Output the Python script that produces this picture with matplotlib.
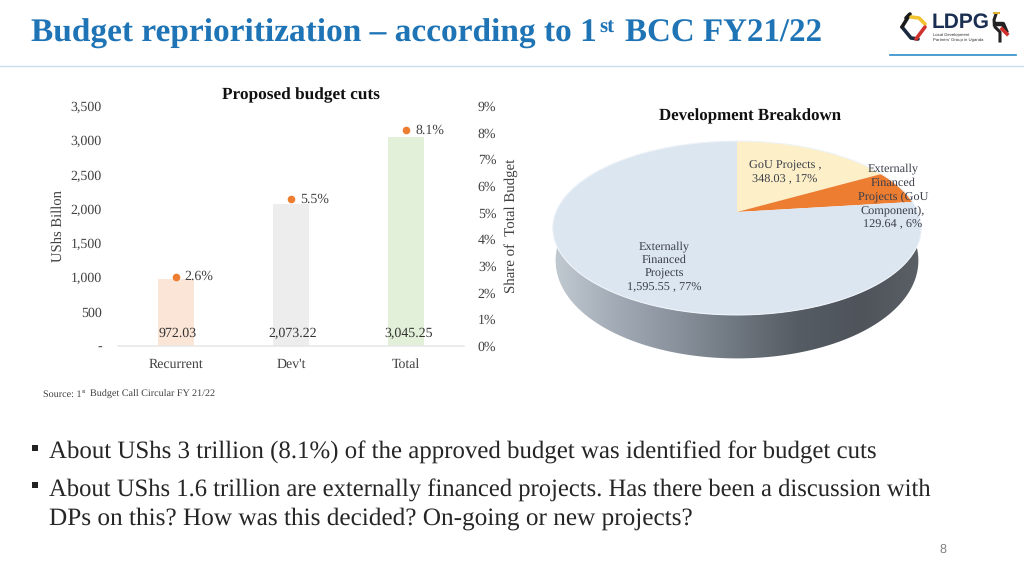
import numpy as np
import matplotlib
matplotlib.use("Agg")
import matplotlib.pyplot as plt
from matplotlib.colors import LinearSegmentedColormap
from matplotlib.patches import Polygon, Rectangle

# ---------- data ----------
categories = ["Recurrent", "Dev't", "Total"]
cuts = [972.03, 2073.22, 3045.25]
cut_labels = ["972.03", "2,073.22", "3,045.25"]
shares = [2.6, 5.5, 8.1]
left_ticks = [0, 500, 1000, 1500, 2000, 2500, 3000, 3500]
left_tick_labels = ["-", "500", "1,000", "1,500", "2,000", "2,500", "3,000", "3,500"]
right_ticks = [0, 1, 2, 3, 4, 5, 6, 7, 8, 9]
pie_values = [348.03, 129.64, 1595.55]
pie_colors = ["#FDF0C8", "#ED7D31", "#DCE6F1"]
bar_colors = ["#FBE5D6", "#EDEDED", "#E2F0D9"]

SERIF = "Liberation Serif"
plt.rcParams["font.family"] = SERIF
plt.rcParams["text.hinting"] = "no_hinting"
plt.rcParams["text.hinting_factor"] = 8
W, H = 1024, 576
fig = plt.figure(figsize=(W / 100, H / 100), dpi=100, facecolor="white")

# overlay in pixel coordinates
ov = fig.add_axes([0, 0, 1, 1])
ov.set_xlim(0, W)
ov.set_ylim(H, 0)
ov.axis("off")

# ---------- header ----------
BLUE = "#1F74B6"
ov.text(31, 34, "Budget reprioritization – according to 1", color=BLUE, fontsize=24,
        fontweight="bold", va="center", ha="left")
ov.text(599, 28, "st", color=BLUE, fontsize=15, fontweight="bold", va="center", ha="left")
ov.text(625, 34, "BCC FY21/22", color=BLUE, fontsize=23.8, fontweight="bold", va="center", ha="left")
ov.plot([0, 1024], [65.5, 65.5], color="#C9DDEE", lw=1)
ov.plot([890, 1016], [54.5, 54.5], color="#2E8BC9", lw=1.2)

# logo
ov.plot([902, 911, 918], [27, 38, 39], color="#1B2A41", lw=2.6, solid_capstyle="round")
ov.plot([902, 910, 906], [27, 14, 18], color="#1B1B1B", lw=2.6, solid_capstyle="round")
ov.plot([911, 919, 925], [17, 18, 24], color="#F2C230", lw=2.6, solid_capstyle="round")
ov.plot([925, 919, 916], [27, 35, 39], color="#D0312D", lw=2.6, solid_capstyle="round")
ov.text(932, 22, "LDPG", color="#1B2F52", fontsize=15, fontweight="bold",
        family="Liberation Sans", va="center", ha="left")
ov.text(933, 35, "Local Development", color="#333333", fontsize=3.1, family="Liberation Sans", va="center")
ov.text(933, 40, "Partners' Group in Uganda", color="#333333", fontsize=3.1, family="Liberation Sans", va="center")
ov.plot([996, 994, 995, 1000, 1000], [14, 20, 27, 32, 41], color="#222222", lw=2.2)
ov.plot([995, 1003, 1006], [24, 24, 31], color="#222222", lw=3.2)
ov.plot([1002, 1007], [29, 34], color="#D0312D", lw=2.6)
ov.plot([994, 999], [13, 13], color="#E0B030", lw=1.5)

# ---------- bar chart ----------
ax = fig.add_axes([118 / W, 1 - 346 / H, 346 / W, 240 / H])
ax.patch.set_alpha(0)
x = np.arange(len(categories))
ax.bar(x, cuts, width=0.31, color=bar_colors, zorder=1)
ax.set_xlim(-0.5, 2.5)
ax.set_ylim(0, 3500)
ax.set_xticks(x)
ax.set_xticklabels(categories, fontsize=10, color="#404040")
ax.set_yticks(left_ticks)
ax.set_yticklabels(left_tick_labels, fontsize=10, color="#404040")
ax.tick_params(axis="both", length=0)
ax.tick_params(axis="y", pad=11.5)
ax.tick_params(axis="x", pad=8.5)
for s in ["top", "left", "right"]:
    ax.spines[s].set_visible(False)
ax.spines["bottom"].set_color("#E8E8E8")
ax.spines["bottom"].set_linewidth(1.2)
ax.set_ylabel("UShs Billon", fontsize=10.5, color="#404040")
ax.yaxis.set_label_coords(-0.153, 0.5)
for xi, lab in zip(x, cut_labels):
    ax.annotate(lab, (xi, 180), xytext=(1.5, 0), textcoords="offset points", ha="center",
                va="center", fontsize=10, color="#333333", zorder=5)

ax2 = ax.twinx()
ax2.patch.set_alpha(0)
ax2.scatter(x, shares, s=30, color="#ED7D31", zorder=4, linewidths=0)
ax2.set_ylim(0, 9)
ax2.set_yticks(right_ticks)
ax2.set_yticklabels([f"{t}%" for t in right_ticks], fontsize=10, color="#404040")
ax2.tick_params(axis="y", length=0, pad=10)
for s in ax2.spines.values():
    s.set_visible(False)
ax2.set_ylabel("Share of  Total Budget", fontsize=10.7, color="#404040")
ax2.yaxis.set_label_coords(1.115, 0.5)
for xi, v in zip(x, shares):
    ax2.annotate(f"{v}%", (xi, v), xytext=(6.5, 0), textcoords="offset points",
                 fontsize=10, color="#404040", va="center", ha="left")

ov.text(301, 95, "Proposed budget cuts", fontsize=12.4, fontweight="bold", ha="center",
        va="center", color="#111111")
ov.text(43, 394, "Source: 1", fontsize=7.25, color="#404040", va="center", ha="left")
ov.text(82, 391.5, "st", fontsize=4.5, color="#404040", va="center", ha="left")
ov.text(89.5, 394, "Budget Call Circular FY 21/22", fontsize=7.25, color="#404040", va="center", ha="left")

# ---------- perspective pie ----------
CX, CY, R, HH, K = 737.0, 212.0, 181.0, 84.0, 0.184


def project(theta, scale=1.0):
    """theta measured clockwise from the top of the disc, in radians."""
    u, v = np.sin(theta), np.cos(theta)
    d = 1 + K * v
    return CX + scale * R * u / d, CY - scale * HH * v / d


vals = np.asarray(pie_values, dtype=float)
edges = np.concatenate([[0], np.cumsum(vals) / vals.sum() * 2 * np.pi])

# side wall with horizontal gradient, clipped to the wall outline
front = np.linspace(np.radians(84), np.radians(276), 200)
xt, yt = project(front)
xb, yb = project(front, scale=0.985)
yb = yb + 30 - 15 * np.cos(front)
wall = np.column_stack([np.r_[xt, xb[::-1]], np.r_[yt, yb[::-1]]])
wall_patch = Polygon(wall, closed=True, transform=ov.transData, fc="none", ec="none")
ov.add_patch(wall_patch)
wall_cmap = LinearSegmentedColormap.from_list(
    "wall", ["#C2CAD2", "#A3ACB6", "#8A939D", "#6E767F", "#565C63", "#4E545A", "#5A6066"])
img = ov.imshow(np.linspace(0, 1, 256)[None, :], extent=[552, 922, 360, 220], cmap=wall_cmap,
                aspect="auto", interpolation="bilinear", zorder=1)
img.set_clip_path(wall_patch)
ov.set_xlim(0, W)
ov.set_ylim(H, 0)

# slices on top of the disc
for i, col in enumerate(pie_colors):
    th = np.linspace(edges[i], edges[i + 1], 240)
    px, py = project(th)
    ov.add_patch(Polygon(np.column_stack([np.r_[CX, px], np.r_[CY, py]]), closed=True,
                         fc=col, ec="none", zorder=2))
rim = np.linspace(0, 2 * np.pi, 400)
rx, ry = project(rim)
ov.plot(rx, ry, color="#EEF3F8", lw=0.8, zorder=3)

ov.text(750, 116, "Development Breakdown", fontsize=12.15, fontweight="bold", ha="center",
        va="center", color="#111111")
PT = "#3A3F4A"
ov.text(785, 172, "GoU Projects ,\n348.03 , 17%", fontsize=8.8, ha="center", va="center",
        color=PT, linespacing=1.35, zorder=5)
ov.text(893, 196.5, "Externally\nFinanced\nProjects (GoU\nComponent),\n129.64 , 6%", fontsize=8.8,
        ha="center", va="center", color=PT, linespacing=1.35, zorder=5)
ov.text(664, 267, "Externally\nFinanced\nProjects\n1,595.55 , 77%", fontsize=8.8, ha="center",
        va="center", color=PT, linespacing=1.35, zorder=5)

# ---------- bullets ----------
TXT = "#262626"
ov.add_patch(Rectangle((32, 445), 6, 6, fc="#222222", ec="none"))
ov.add_patch(Rectangle((32, 482), 6, 6, fc="#222222", ec="none"))
ov.text(49, 452.5, "About UShs 3 trillion (8.1%) of the approved budget was identified for budget cuts",
        fontsize=17.9, color=TXT, va="center", ha="left")
ov.text(49, 490.5, "About UShs 1.6 trillion are externally financed projects. Has there been a discussion with",
        fontsize=17.75, color=TXT, va="center", ha="left")
ov.text(49, 518.5, "DPs on this? How was this decided? On-going or new projects?",
        fontsize=18.2, color=TXT, va="center", ha="left")
ov.text(943, 550, "8", fontsize=9, color="#7F7F7F", va="center", ha="center",
        family="Liberation Sans")

fig.savefig("out.png", dpi=100)
